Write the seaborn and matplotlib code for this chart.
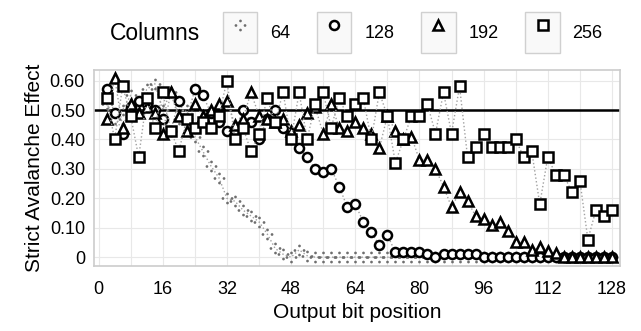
import matplotlib
matplotlib.use("Agg")
import matplotlib.pyplot as plt
from matplotlib.path import Path
from matplotlib.patches import Rectangle
from matplotlib.lines import Line2D
import seaborn as sns

sns.set_theme(style="white")
plt.rcParams["font.family"] = ["Liberation Sans", "DejaVu Sans"]
plt.rcParams["text.color"] = "black"
plt.rcParams["axes.labelcolor"] = "black"

# output bit positions (every second bit)
BITS = list(range(2, 129, 2))

SAE_64 = [0.52, 0.47, 0.50, 0.55, 0.49, 0.57, 0.59, 0.50, 0.56, 0.47,
          0.50, 0.41, 0.36, 0.31, 0.27, 0.20, 0.19, 0.16, 0.14, 0.12,
          0.08, 0.03, 0.01, 0.0, 0.025, 0.005, 0.0, 0.0, 0.0, 0.0,
          0.0, 0.0, 0.0, 0.0, 0.0, 0.0, 0.0, 0.0, 0.0, 0.0,
          0.0, 0.0, 0.0, 0.0, 0.0, 0.0, 0.0, 0.0, 0.0, 0.0,
          0.0, 0.0, 0.0, 0.0, 0.0, 0.0, 0.0, 0.0, 0.0, 0.0,
          0.0, 0.0, 0.0, 0.0]

SAE_128 = [0.57, 0.49, 0.42, 0.51, 0.53, 0.52, 0.50, 0.47, 0.43, 0.53,
           0.47, 0.57, 0.55, 0.49, 0.46, 0.43, 0.43, 0.50, 0.46, 0.40,
           0.47, 0.50, 0.44, 0.40, 0.37, 0.34, 0.30, 0.29, 0.30, 0.24,
           0.17, 0.18, 0.12, 0.085, 0.04, 0.075, 0.017, 0.017, 0.017, 0.017,
           0.012, 0.0, 0.012, 0.012, 0.012, 0.012, 0.012, 0.0, 0.0, 0.0,
           0.0, 0.0, 0.0, 0.0, 0.0, 0.0, 0.0, 0.0, 0.0, 0.0,
           0.0, 0.0, 0.0, 0.0]

SAE_192 = [0.47, 0.61, 0.44, 0.52, 0.49, 0.51, 0.49, 0.42, 0.56, 0.48,
           0.43, 0.52, 0.48, 0.50, 0.52, 0.53, 0.45, 0.47, 0.56, 0.48,
           0.47, 0.46, 0.47, 0.43, 0.45, 0.49, 0.51, 0.42, 0.52, 0.44,
           0.43, 0.46, 0.44, 0.42, 0.37, 0.48, 0.43, 0.40, 0.41, 0.33,
           0.33, 0.30, 0.24, 0.17, 0.22, 0.19, 0.14, 0.13, 0.11, 0.12,
           0.09, 0.05, 0.05, 0.024, 0.034, 0.02, 0.014, 0.0, 0.0, 0.0,
           0.0, 0.0, 0.0, 0.0]

SAE_256 = [0.54, 0.40, 0.58, 0.48, 0.34, 0.54, 0.44, 0.56, 0.43, 0.36,
           0.47, 0.44, 0.46, 0.44, 0.48, 0.60, 0.40, 0.44, 0.36, 0.42,
           0.54, 0.46, 0.56, 0.40, 0.56, 0.40, 0.52, 0.56, 0.44, 0.54,
           0.48, 0.52, 0.54, 0.40, 0.56, 0.48, 0.32, 0.40, 0.48, 0.48,
           0.52, 0.42, 0.56, 0.42, 0.58, 0.34, 0.375, 0.42, 0.375, 0.375,
           0.375, 0.40, 0.34, 0.36, 0.18, 0.34, 0.28, 0.28, 0.22, 0.26,
           0.06, 0.16, 0.14, 0.16]

LABELS = ["64", "128", "192", "256"]
SERIES = [SAE_64, SAE_128, SAE_192, SAE_256]

X_TICKS = [0, 16, 32, 48, 64, 80, 96, 112, 128]
X_MINOR = [8, 24, 40, 56, 72, 88, 104, 120]
Y_TICKS = [0, 0.1, 0.2, 0.3, 0.4, 0.5, 0.6]
Y_LABELS = ["0", "0.10", "0.20", "0.30", "0.40", "0.50", "0.60"]

# four separate dots, like a dotted "+"
_dots = [Path.circle((0, 1), 0.3), Path.circle((0, -1), 0.3),
         Path.circle((1, 0), 0.3), Path.circle((-1, 0), 0.3)]
PLUS_DOTS = Path.make_compound_path(*_dots)

STYLES = [
    dict(marker=PLUS_DOTS, markersize=8.5, markerfacecolor="#6e6e6e",
         markeredgecolor="#6e6e6e", markeredgewidth=0),
    dict(marker="o", markersize=6.5, markerfacecolor="white",
         markeredgecolor="black", markeredgewidth=1.8),
    dict(marker="^", markersize=7.5, markerfacecolor="white",
         markeredgecolor="black", markeredgewidth=1.8),
    dict(marker="s", markersize=6.5, markerfacecolor="white",
         markeredgecolor="black", markeredgewidth=1.8),
]

fig = plt.figure(figsize=(6.41, 3.31), dpi=100)
ax = fig.add_axes([0.1466, 0.1964, 0.8206, 0.5921])

ax.axhline(0.5, color="black", lw=1.8, zorder=1.5)
for vals, st in zip(SERIES, STYLES):
    sns.lineplot(x=BITS, y=vals, ax=ax, color="#a0a0a0", linestyle=":",
                 linewidth=1.0, zorder=2, **st)

ax.set_xlim(-1.15, 130)
ax.set_ylim(-0.030, 0.636)
ax.set_xticks(X_TICKS)
ax.set_xticks(X_MINOR, minor=True)
ax.set_yticks(Y_TICKS)
ax.set_yticklabels(Y_LABELS)
ax.grid(which="both", color="#e8e8e8", lw=0.8)
ax.set_axisbelow(True)
ax.tick_params(axis="both", which="major", length=2.5, width=1.2,
               color="#555555", labelsize=13, labelcolor="black")
ax.tick_params(axis="x", which="major", pad=8)
ax.tick_params(axis="y", which="major", pad=4)
ax.tick_params(which="minor", length=0)
for sp in ax.spines.values():
    sp.set_color("#cccccc")
    sp.set_linewidth(1.2)

ax.set_xlabel("Output bit position", fontsize=15, labelpad=4)
ax.set_ylabel("Strict Avalanche Effect", fontsize=15, labelpad=4)

# legend with boxed keys
handles = []
for st in STYLES:
    box = Rectangle((0, 0), 1, 1, facecolor="#f9f9f9", edgecolor="#d0d0d0", lw=1.0)
    mk = Line2D([], [], linestyle="none", **st)
    handles.append((box, mk))
fig.text(110 / 641, 0.90, "Columns", fontsize=16.5, va="center", ha="left")
fig.legend(handles, LABELS, loc="center left", bbox_to_anchor=(214 / 641, 0.902),
           ncol=4, frameon=False, fontsize=13, numpoints=1, borderpad=0,
           handlelength=1.9, handleheight=3.1, handletextpad=0.7,
           columnspacing=1.5)

fig.savefig("out.png", dpi=100)
